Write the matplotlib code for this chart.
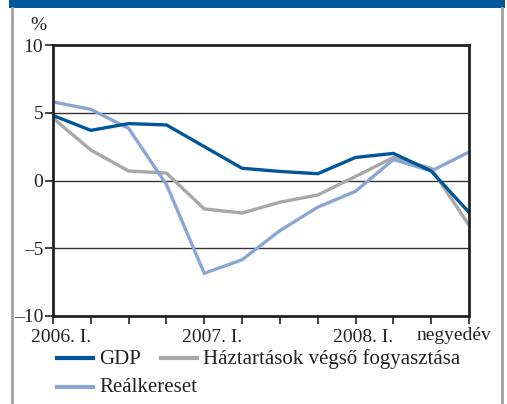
import matplotlib
matplotlib.use("Agg")
import matplotlib.pyplot as plt
from matplotlib.lines import Line2D
import numpy as np

plt.rcParams['font.family'] = ['Liberation Serif', 'DejaVu Serif']

quarters = ["2006. I.", "II.", "III.", "IV.", "2007. I.", "II.", "III.", "IV.",
            "2008. I.", "II.", "III.", "IV."]
year_labels = ["2006. I.", "2007. I.", "2008. I."]
gdp = [4.8, 3.7, 4.2, 4.1, 2.5, 0.9, 0.67, 0.5, 1.7, 2.0, 0.7, -2.35]
haztartas = [4.6, 2.25, 0.7, 0.55, -2.1, -2.4, -1.6, -1.07, 0.3, 1.7, 0.9, -3.3]
realkereset = [5.8, 5.25, 3.85, -0.3, -6.85, -5.85, -3.7, -1.97, -0.8, 1.55, 0.7, 2.1]
series_names = ["GDP", "Háztartások végső fogyasztása", "Reálkereset"]

c_gdp = "#00569a"
c_haz = "#a8a8a8"
c_real = "#8aa6d4"
txt = "#222222"

fig = plt.figure(figsize=(5.07, 4.04), dpi=100)
W, H = 507, 404

# frame decoration
fig.add_artist(plt.Rectangle((9 / W, 1 - 8 / H), 496 / W, 8 / H, transform=fig.transFigure,
                             color="#00589c", lw=0))
fig.add_artist(Line2D([11.5 / W, 11.5 / W], [0, 1 - 8 / H], transform=fig.transFigure,
                      color="#a0a0a0", lw=2))
fig.add_artist(Line2D([502 / W, 502 / W], [0, 1 - 8 / H], transform=fig.transFigure,
                      color="#a0a0a0", lw=2))

ax = fig.add_axes([53 / W, 1 - 316 / H, (469 - 53) / W, (316 - 45) / H])
x = np.arange(len(quarters))
ax.plot(x, haztartas, color=c_haz, lw=2.4, solid_joinstyle='miter')
ax.plot(x, realkereset, color=c_real, lw=2.4, solid_joinstyle='miter')
ax.plot(x, gdp, color=c_gdp, lw=2.4, solid_joinstyle='miter')

ax.set_xlim(0, len(quarters) - 1)
ax.set_ylim(-10, 10)
ax.set_yticks([-10, -5, 0, 5, 10])
ax.set_yticklabels(["\u201310", "\u20135", "0", "5", "10"])
for yv in [-5, 0, 5]:
    ax.axhline(yv, color="#333333", lw=1.0, zorder=0)

# tick marks at every quarter (minor), labels slightly right of the year ticks (major)
ax.set_xticks(x, minor=True)
label_pos = [quarters.index(l) + 0.21 for l in year_labels]
ax.set_xticks(label_pos)
ax.set_xticklabels(year_labels)
ax.tick_params(axis='x', which='major', length=0, pad=9, labelsize=14, labelcolor=txt)
ax.tick_params(axis='x', which='minor', direction='out', length=6, width=1.2, color=txt)
ax.tick_params(axis='y', direction='out', length=6, width=1.2, colors=txt,
               labelsize=14, labelcolor=txt, pad=1)
for s in ax.spines.values():
    s.set_linewidth(2.0)
    s.set_color(txt)

fig.text(38 / W, 1 - 26 / H, "%", ha='center', va='center', fontsize=14, color=txt)
fig.text(454 / W, 1 - 335 / H, "negyedév", ha='center', va='center', fontsize=14,
         color=txt)

# legend
def leg(x0, y, color, label):
    fig.add_artist(Line2D([x0 / W, (x0 + 36) / W], [1 - y / H, 1 - y / H],
                          transform=fig.transFigure, color=color, lw=3))
    fig.text((x0 + 42) / W, 1 - (y + 1) / H, label, ha='left', va='center', fontsize=15,
             color=txt)

leg(57, 358, c_gdp, series_names[0])
leg(161, 358, c_haz, series_names[1])
leg(57, 387, c_real, series_names[2])

fig.savefig("out.png", dpi=100)
